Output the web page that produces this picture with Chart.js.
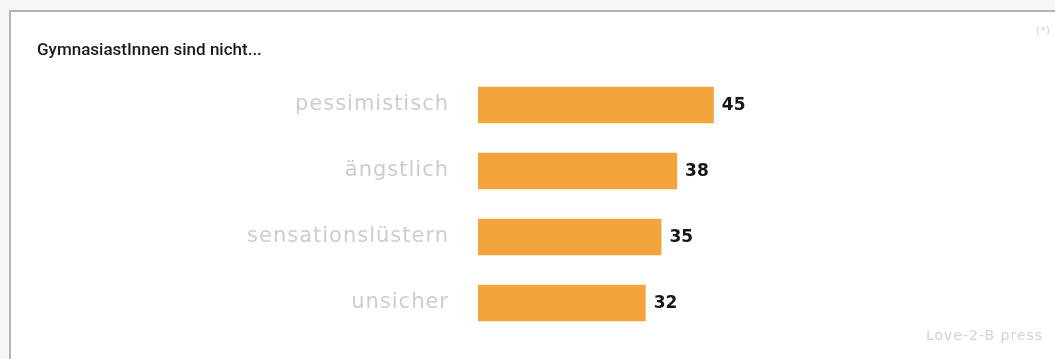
<!DOCTYPE html>
<html lang="de">
<head>
<meta charset="utf-8">
<title>GymnasiastInnen sind nicht...</title>
<script src="https://cdn.jsdelivr.net/npm/chart.js@4/dist/chart.umd.min.js"></script>
<style>
  html, body { margin: 0; padding: 0; background: #f7f7f7; }
  #wrap { position: relative; width: 1055px; height: 359px; overflow: hidden; }
  #frame {
    position: absolute; left: 9px; top: 10px; width: 1100px; height: 400px;
    background: #ffffff; border-top: 2px solid #b4b4b4; border-left: 2px solid #b4b4b4;
  }
  #chart { position: absolute; left: 0; top: 0; }
  .note { position: absolute; color: #d2d2d2; font-family: "DejaVu Sans", sans-serif; white-space: nowrap; }
</style>
</head>
<body>
<div id="wrap">
  <div id="frame"></div>
  <canvas id="chart" width="1055" height="359"></canvas>
  <span class="note" style="left:1036px; top:24px; font-size:11px;">(*)</span>
  <span class="note" style="left:926px; top:327px; font-size:14px; letter-spacing:1px;">Love-2-B press</span>
</div>
<script>
// Survey answers: share of respondents (%)
const categories = ['pessimistisch', 'ängstlich', 'sensationslüstern', 'unsicher'];
const values = [45, 38, 35, 32];
const titleText = 'GymnasiastInnen sind nicht...';

// Writes each value just past the end of its bar
const valueLabels = {
  id: 'valueLabels',
  afterDatasetsDraw(chart) {
    const ctx = chart.ctx;
    const meta = chart.getDatasetMeta(0);
    ctx.save();
    ctx.font = 'bold 17px "DejaVu Sans", sans-serif';
    ctx.fillStyle = '#151515';
    ctx.textAlign = 'left';
    ctx.textBaseline = 'middle';
    meta.data.forEach((bar, i) => {
      ctx.fillText(String(values[i]), bar.x + 8, bar.y + 1);
    });
    ctx.restore();
  }
};

new Chart(document.getElementById('chart'), {
  type: 'bar',
  data: {
    labels: categories,
    datasets: [{
      data: values,
      backgroundColor: '#f3a53c',
      borderWidth: 0,
      categoryPercentage: 1,
      barPercentage: 0.55
    }]
  },
  options: {
    indexAxis: 'y',
    responsive: false,
    animation: false,
    layout: { padding: { left: 37, top: 30, right: 53, bottom: 23 } },
    plugins: {
      legend: { display: false },
      tooltip: { enabled: false },
      title: {
        display: true,
        text: titleText,
        align: 'start',
        color: '#1a1a1a',
        font: { family: 'Roboto, "Liberation Sans", sans-serif', size: 17, weight: '500' },
        padding: { top: 11, bottom: 10.6 }
      }
    },
    scales: {
      x: {
        display: false,
        min: 0,
        max: 100
      },
      y: {
        grid: { display: false },
        border: { display: false },
        ticks: {
          color: '#cdcdcd',
          padding: 21,
          font: { family: '"DejaVu Sans", sans-serif', size: 21 }
        },
        afterFit(scale) {
          scale.width = 441;
          // labels sit beside their bars, so no extra room above or below
          scale.paddingTop = 0;
          scale.paddingBottom = 0;
          // category names are set slightly spaced out
          if (!scale._spaced) {
            const drawLabels = scale.drawLabels.bind(scale);
            scale.drawLabels = function (area) {
              this.ctx.save();
              this.ctx.letterSpacing = '1px';
              drawLabels(area);
              this.ctx.restore();
            };
            scale._spaced = true;
          }
        }
      }
    }
  },
  plugins: [valueLabels]
});
</script>
</body>
</html>
